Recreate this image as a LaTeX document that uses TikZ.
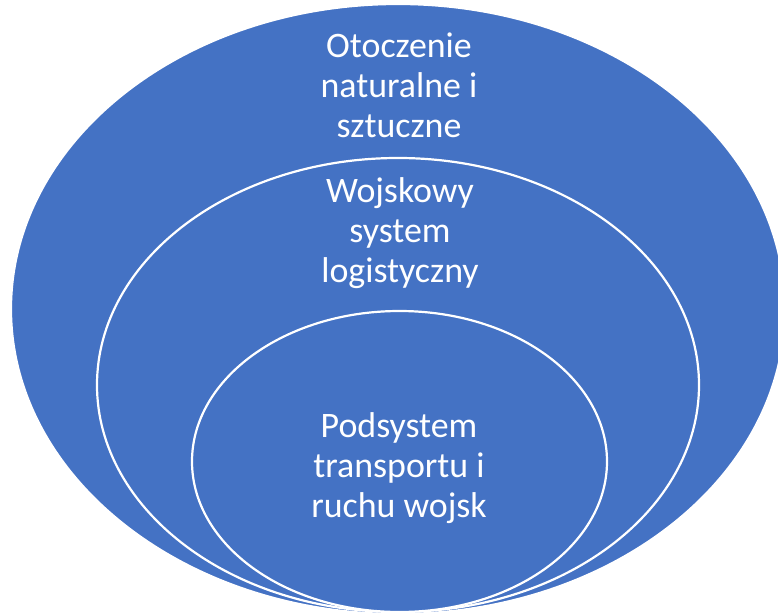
\documentclass[tikz,border=0pt]{standalone}
\usepackage{fontspec}
\setmainfont{Carlito}
\usepackage{tikz}
\usetikzlibrary{positioning, shapes.geometric}

\definecolor{ringblue}{HTML}{4472C4}

\begin{document}
\begin{tikzpicture}[
          x=1bp, y=-1bp,
          ring/.style={ellipse, draw=white, line width=2.2bp, fill=ringblue,
                       inner sep=0pt},
          txt/.style={text=white, align=center, inner sep=0pt,
                      font=\fontsize{36}{40}\selectfont}
        ]
          \useasboundingbox (0,0) rectangle (778,613);
          \node[ring, minimum width=774bp, minimum height=610bp] (outer) at (398,309) {};
          \node[ring, minimum width=602bp, minimum height=454bp] (middle) at (398,385) {};
          \node[ring, minimum width=415bp, minimum height=301bp] (inner) at (399.5,461.5) {};
          \node[txt] (outertxt) at (399,85) {Otoczenie\\naturalne i\\sztuczne};
          \node[txt] (middletxt) at (400,233) {Wojskowy\\system\\logistyczny};
          \node[txt] (innertxt) at (399,468) {Podsystem\\transportu i\\ruchu wojsk};
        \end{tikzpicture}
\end{document}
